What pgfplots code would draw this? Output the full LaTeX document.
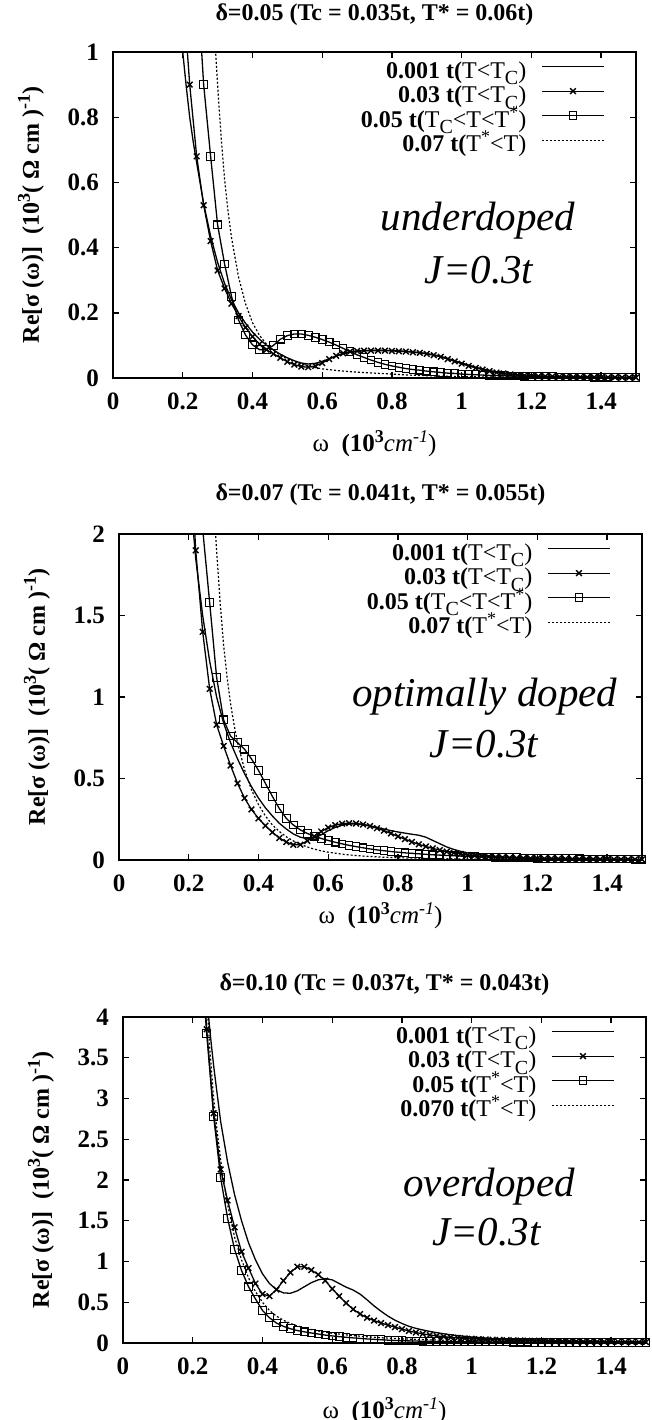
\documentclass[border=0pt]{standalone}
\usepackage{fontspec}
\setmainfont{Liberation Serif}
\usepackage{pgfplots}
\pgfplotsset{compat=1.18}

\newcommand{\sub}[1]{\raisebox{-3.2pt}{\fontsize{10}{10}\selectfont #1}}
\newcommand{\supx}[1]{\raisebox{4.5pt}{\fontsize{9}{9}\selectfont #1}}

\pgfplotsset{panel/.style={
    scale only axis, width=261.5pt, height=163pt,
    xmin=0, xmax=1.5, ymin=0,
    axis line style={line width=0.8pt},
    tick style={line width=0.7pt, black},
    major tick length=3pt,
    tick align=inside,
    xtick={0,0.2,0.4,0.6,0.8,1,1.2,1.4},
    xticklabels={0,0.2,0.4,0.6,0.8,1,1.2,1.4},
    ticklabel style={font=\fontsize{12.5}{12.5}\selectfont\bfseries},
    xticklabel style={yshift=-4pt},
    yticklabel style={xshift=-3.5pt},
    ylabel={Re[σ (ω)]\ \ (10\supx{3}( Ω cm )\supx{-1})},
    every axis y label/.style={at={([xshift=-41pt]rel axis cs:0,0.5)}, rotate=90, anchor=center,
        font=\fontsize{12}{12}\selectfont\bfseries},
    xlabel={ω\ \ \textbf{(10\supx{3}}\textit{cm\supx{-1}})},
    title style={at={(rel axis cs:0.5,1)}, anchor=center, font=\fontsize{12}{12}\selectfont\bfseries},
    legend plot pos=right,
    legend cell align=right,
    legend style={at={(rel axis cs:1,1)}, anchor=north east, xshift=-15.5pt, yshift=-4.5pt,
        draw=none, fill=none, inner sep=0pt, row sep=0pt, column sep=7.5pt,
        font=\fontsize{12}{12}\selectfont,
        nodes={inner sep=0pt, text height=8.5pt, text depth=3.75pt}},
    legend image code/.code={\draw[mark repeat=2,mark phase=2,#1] plot coordinates {(0pt,3.5pt) (15.5pt,3.5pt) (31pt,3.5pt)};},
    sA/.style={black, line width=0.65pt, no marks},
    sB/.style={black, line width=0.65pt, mark=x, mark size=2pt, every mark/.append style={line width=0.7pt}},
    sC/.style={black, line width=0.65pt, mark=square, mark size=1.9pt, every mark/.append style={line width=0.55pt}},
    sD/.style={black, line width=0.6pt, no marks, dash pattern=on 1pt off 1pt},
}}

\begin{document}
\begin{tikzpicture}
\useasboundingbox (0,0) rectangle (326pt,-710pt);

% ---------- underdoped ----------
\begin{axis}[panel, at={(56.5pt,-26pt)}, anchor=north west,
    ymax=1, ytick={0,0.2,0.4,0.6,0.8,1}, yticklabels={0,0.2,0.4,0.6,0.8,1},
    title={δ=0.05 (Tc = 0.035t, T* = 0.06t)}, title style={yshift=12.5pt},
    every axis x label/.style={at={([yshift=-33pt]rel axis cs:0.5,0)}, anchor=center, font=\fontsize{12.5}{12.5}\selectfont}]
\addplot[sA] table {
0.19 1.15
0.20 1.00
0.21 0.895
0.22 0.80
0.23 0.725
0.24 0.66
0.26 0.535
0.28 0.435
0.30 0.355
0.32 0.29
0.34 0.24
0.36 0.20
0.38 0.168
0.40 0.141
0.42 0.119
0.44 0.101
0.46 0.086
0.48 0.073
0.50 0.062
0.52 0.053
0.54 0.046
0.56 0.043
0.58 0.045
0.60 0.051
0.62 0.059
0.64 0.067
0.66 0.074
0.68 0.079
0.70 0.082
0.72 0.084
0.74 0.085
0.76 0.085
0.78 0.085
0.80 0.084
0.82 0.083
0.84 0.082
0.86 0.080
0.88 0.078
0.90 0.075
0.92 0.071
0.94 0.066
0.96 0.060
0.98 0.053
1.00 0.046
1.04 0.033
1.08 0.023
1.12 0.015
1.16 0.010
1.20 0.007
1.25 0.005
1.30 0.004
1.40 0.003
1.50 0.002
};
\addlegendentry{\textbf{0.001 t(}T<T\sub{C})}
\addplot[sB] table {
0.20 1.20
0.22 0.90
0.24 0.68
0.26 0.53
0.28 0.42
0.30 0.33
0.32 0.275
0.34 0.228
0.36 0.19
0.38 0.155
0.40 0.127
0.42 0.104
0.44 0.087
0.46 0.074
0.48 0.062
0.50 0.050
0.52 0.041
0.54 0.035
0.56 0.033
0.58 0.037
0.60 0.046
0.62 0.058
0.64 0.068
0.66 0.076
0.68 0.081
0.70 0.083
0.72 0.084
0.74 0.084
0.76 0.084
0.78 0.084
0.80 0.083
0.82 0.082
0.84 0.081
0.86 0.079
0.88 0.077
0.90 0.074
0.92 0.070
0.94 0.065
0.96 0.058
0.98 0.051
1.00 0.044
1.02 0.037
1.04 0.031
1.06 0.026
1.08 0.021
1.10 0.017
1.12 0.014
1.14 0.011
1.16 0.009
1.18 0.0075
1.20 0.0065
1.22 0.0055
1.24 0.005
1.26 0.0045
1.28 0.004
1.30 0.0035
1.32 0.003
1.34 0.003
1.36 0.0025
1.38 0.0025
1.40 0.002
1.42 0.002
1.44 0.002
1.46 0.0015
1.48 0.0015
1.50 0.0015
};
\addlegendentry{\textbf{0.03 t(}T<T\sub{C})}
\addplot[sC] table {
0.24 1.25
0.26 0.90
0.28 0.68
0.30 0.47
0.32 0.35
0.34 0.25
0.36 0.178
0.38 0.132
0.40 0.102
0.42 0.087
0.44 0.087
0.46 0.100
0.48 0.119
0.50 0.130
0.52 0.135
0.54 0.135
0.56 0.131
0.58 0.125
0.60 0.118
0.62 0.110
0.64 0.101
0.66 0.091
0.68 0.081
0.70 0.071
0.72 0.063
0.74 0.055
0.76 0.048
0.78 0.042
0.80 0.037
0.82 0.033
0.84 0.029
0.86 0.026
0.88 0.024
0.90 0.021
0.92 0.019
0.94 0.017
0.96 0.015
0.98 0.014
1.00 0.012
1.02 0.011
1.04 0.010
1.06 0.009
1.08 0.008
1.10 0.0075
1.12 0.007
1.14 0.0065
1.16 0.006
1.18 0.0055
1.20 0.005
1.22 0.0045
1.24 0.004
1.26 0.004
1.28 0.0035
1.30 0.0035
1.32 0.003
1.34 0.003
1.36 0.003
1.38 0.0025
1.40 0.0025
1.42 0.0025
1.44 0.002
1.46 0.002
1.48 0.002
1.50 0.002
};
\addlegendentry{\textbf{0.05 t(}T\sub{C}<T<T\supx{*})}
\addplot[sD] table {
0.28 1.35
0.29 1.08
0.30 0.90
0.31 0.74
0.32 0.61
0.33 0.51
0.34 0.43
0.36 0.31
0.38 0.228
0.40 0.170
0.42 0.131
0.44 0.104
0.46 0.085
0.48 0.070
0.50 0.059
0.52 0.050
0.54 0.043
0.56 0.037
0.58 0.032
0.60 0.028
0.65 0.022
0.70 0.018
0.75 0.015
0.80 0.012
0.85 0.009
0.90 0.007
1.00 0.004
1.10 0.003
1.20 0.002
1.35 0.0015
1.50 0.001
};
\addlegendentry{\textbf{0.07 t(}T\supx{*}<T)}
\node[font=\fontsize{20.5}{20.5}\selectfont\itshape] at (axis cs:1.047,0.483) {underdoped};
\node[font=\fontsize{20.5}{20.5}\selectfont\itshape] at (axis cs:1.05,0.33) {J=0.3t};
\end{axis}

% ---------- optimally doped ----------
\begin{axis}[panel, at={(59.5pt,-267pt)}, anchor=north west,
    ymax=2, ytick={0,0.5,1,1.5,2}, yticklabels={0,0.5,1,1.5,2},
    title={δ=0.07 (Tc = 0.041t, T* = 0.055t)}, title style={yshift=13.5pt},
    every axis x label/.style={at={([yshift=-28pt]rel axis cs:0.5,0)}, anchor=center, font=\fontsize{12.5}{12.5}\selectfont}]
\addplot[sA] table {
0.20 2.40
0.21 2.10
0.22 1.85
0.24 1.50
0.26 1.22
0.28 1.00
0.30 0.84
0.32 0.72
0.34 0.62
0.36 0.53
0.38 0.45
0.40 0.38
0.42 0.32
0.44 0.27
0.46 0.225
0.48 0.19
0.50 0.16
0.52 0.14
0.54 0.13
0.56 0.135
0.58 0.155
0.60 0.18
0.62 0.20
0.64 0.214
0.66 0.221
0.68 0.222
0.70 0.218
0.72 0.21
0.74 0.20
0.76 0.19
0.78 0.18
0.80 0.172
0.82 0.165
0.84 0.158
0.86 0.152
0.88 0.14
0.90 0.12
0.92 0.10
0.94 0.08
0.96 0.065
0.98 0.053
1.00 0.044
1.05 0.028
1.10 0.018
1.15 0.012
1.20 0.008
1.30 0.005
1.40 0.003
1.50 0.002
};
\addlegendentry{\textbf{0.001 t(}T<T\sub{C})}
\addplot[sB] table {
0.20 2.70
0.22 1.90
0.24 1.40
0.26 1.05
0.28 0.83
0.30 0.70
0.32 0.58
0.34 0.47
0.36 0.38
0.38 0.31
0.40 0.255
0.42 0.21
0.44 0.17
0.46 0.135
0.48 0.11
0.50 0.093
0.52 0.094
0.54 0.117
0.56 0.145
0.58 0.175
0.60 0.199
0.62 0.214
0.64 0.223
0.66 0.226
0.68 0.224
0.70 0.218
0.72 0.208
0.74 0.195
0.76 0.180
0.78 0.163
0.80 0.145
0.82 0.128
0.84 0.111
0.86 0.096
0.88 0.083
0.90 0.071
0.92 0.061
0.94 0.052
0.96 0.044
0.98 0.037
1.00 0.031
1.02 0.027
1.04 0.023
1.06 0.020
1.08 0.017
1.10 0.015
1.12 0.013
1.14 0.012
1.16 0.011
1.18 0.010
1.20 0.009
1.22 0.008
1.24 0.0075
1.26 0.007
1.28 0.0065
1.30 0.006
1.32 0.0055
1.34 0.005
1.36 0.005
1.38 0.0045
1.40 0.0045
1.42 0.004
1.44 0.004
1.46 0.004
1.48 0.0035
1.50 0.0035
};
\addlegendentry{\textbf{0.03 t(}T<T\sub{C})}
\addplot[sC] table {
0.22 2.55
0.24 2.03
0.26 1.58
0.28 1.12
0.30 0.86
0.32 0.76
0.34 0.72
0.36 0.68
0.38 0.62
0.40 0.55
0.42 0.47
0.44 0.39
0.46 0.315
0.48 0.255
0.50 0.215
0.52 0.185
0.54 0.163
0.56 0.146
0.58 0.132
0.60 0.120
0.62 0.109
0.64 0.099
0.66 0.090
0.68 0.082
0.70 0.075
0.72 0.068
0.74 0.062
0.76 0.057
0.78 0.052
0.80 0.048
0.82 0.044
0.84 0.041
0.86 0.038
0.88 0.035
0.90 0.032
0.92 0.030
0.94 0.028
0.96 0.026
0.98 0.024
1.00 0.022
1.02 0.021
1.04 0.019
1.06 0.018
1.08 0.017
1.10 0.016
1.12 0.015
1.14 0.014
1.16 0.013
1.18 0.012
1.20 0.011
1.22 0.010
1.24 0.0095
1.26 0.009
1.28 0.0085
1.30 0.008
1.32 0.0075
1.34 0.007
1.36 0.0068
1.38 0.0065
1.40 0.006
1.42 0.006
1.44 0.0055
1.46 0.0055
1.48 0.005
1.50 0.005
};
\addlegendentry{\textbf{0.05 t(}T\sub{C}<T<T\supx{*})}
\addplot[sD] table {
0.26 2.60
0.27 2.25
0.28 1.90
0.29 1.58
0.30 1.32
0.31 1.12
0.32 0.96
0.33 0.83
0.34 0.72
0.36 0.555
0.38 0.43
0.40 0.34
0.42 0.27
0.44 0.215
0.46 0.175
0.48 0.142
0.50 0.117
0.52 0.097
0.54 0.080
0.56 0.067
0.58 0.056
0.60 0.048
0.65 0.033
0.70 0.024
0.75 0.018
0.80 0.014
0.90 0.009
1.00 0.006
1.10 0.004
1.25 0.003
1.50 0.002
};
\addlegendentry{\textbf{0.07 t(}T\supx{*}<T)}
\node[font=\fontsize{20.5}{20.5}\selectfont\itshape] at (axis cs:1.049,1.0) {optimally doped};
\node[font=\fontsize{20.5}{20.5}\selectfont\itshape] at (axis cs:1.047,0.71) {J=0.3t};
\end{axis}

% ---------- overdoped ----------
\begin{axis}[panel, at={(61.5pt,-508.5pt)}, anchor=north west,
    ymax=4, ytick={0,0.5,1,1.5,2,2.5,3,3.5,4}, yticklabels={0,0.5,1,1.5,2,2.5,3,3.5,4},
    title={δ=0.10 (Tc = 0.037t, T* = 0.043t)}, title style={yshift=10pt},
    every axis x label/.style={at={([yshift=-34pt]rel axis cs:0.5,0)}, anchor=center, font=\fontsize{12.5}{12.5}\selectfont}]
\addplot[sA] table {
0.22 5.50
0.23 4.80
0.24 4.25
0.25 3.80
0.26 3.40
0.28 2.72
0.30 2.22
0.32 1.82
0.34 1.50
0.36 1.23
0.38 1.02
0.40 0.85
0.42 0.73
0.44 0.655
0.46 0.615
0.48 0.61
0.50 0.64
0.52 0.69
0.54 0.74
0.56 0.775
0.58 0.79
0.60 0.775
0.62 0.73
0.64 0.685
0.66 0.65
0.68 0.60
0.70 0.53
0.72 0.455
0.74 0.39
0.76 0.33
0.78 0.28
0.80 0.24
0.82 0.205
0.84 0.18
0.86 0.16
0.88 0.142
0.90 0.127
0.92 0.113
0.94 0.101
0.96 0.091
0.98 0.082
1.00 0.074
1.05 0.058
1.10 0.047
1.20 0.032
1.30 0.023
1.40 0.017
1.50 0.013
};
\addlegendentry{\textbf{0.001 t(}T<T\sub{C})}
\addplot[sB] table {
0.22 5.20
0.24 3.85
0.26 2.82
0.28 2.13
0.30 1.75
0.32 1.42
0.34 1.12
0.36 0.92
0.38 0.73
0.40 0.60
0.42 0.575
0.44 0.655
0.46 0.765
0.48 0.865
0.50 0.935
0.52 0.935
0.54 0.895
0.56 0.84
0.58 0.765
0.60 0.665
0.62 0.575
0.64 0.49
0.66 0.415
0.68 0.355
0.70 0.31
0.72 0.275
0.74 0.245
0.76 0.22
0.78 0.195
0.80 0.17
0.82 0.148
0.84 0.128
0.86 0.112
0.88 0.098
0.90 0.087
0.92 0.078
0.94 0.070
0.96 0.063
0.98 0.057
1.00 0.052
1.02 0.048
1.04 0.044
1.06 0.041
1.08 0.038
1.10 0.035
1.12 0.033
1.14 0.031
1.16 0.029
1.18 0.027
1.20 0.025
1.22 0.024
1.24 0.022
1.26 0.021
1.28 0.020
1.30 0.019
1.32 0.018
1.34 0.017
1.36 0.016
1.38 0.015
1.40 0.015
1.42 0.014
1.44 0.013
1.46 0.013
1.48 0.012
1.50 0.012
};
\addlegendentry{\textbf{0.03 t(}T<T\sub{C})}
\addplot[sC] table {
0.22 5.00
0.24 3.80
0.26 2.78
0.28 2.03
0.30 1.53
0.32 1.15
0.34 0.89
0.36 0.69
0.38 0.54
0.40 0.40
0.42 0.31
0.44 0.245
0.46 0.205
0.48 0.175
0.50 0.153
0.52 0.137
0.54 0.123
0.56 0.110
0.58 0.097
0.60 0.087
0.62 0.078
0.64 0.070
0.66 0.063
0.68 0.056
0.70 0.050
0.72 0.045
0.74 0.040
0.76 0.035
0.78 0.031
0.80 0.028
0.82 0.026
0.84 0.024
0.86 0.022
0.88 0.020
0.90 0.019
0.92 0.018
0.94 0.017
0.96 0.016
0.98 0.015
1.00 0.014
1.02 0.0135
1.04 0.013
1.06 0.0125
1.08 0.012
1.10 0.011
1.12 0.0105
1.14 0.010
1.16 0.0095
1.18 0.009
1.20 0.009
1.22 0.0085
1.24 0.008
1.26 0.008
1.28 0.0075
1.30 0.007
1.32 0.007
1.34 0.0065
1.36 0.0065
1.38 0.006
1.40 0.006
1.42 0.006
1.44 0.0055
1.46 0.0055
1.48 0.005
1.50 0.005
};
\addlegendentry{\textbf{0.05 t(}T\supx{*}<T)}
\addplot[sD] table {
0.22 5.40
0.23 4.75
0.24 4.20
0.25 3.55
0.26 3.00
0.27 2.60
0.28 2.25
0.29 1.95
0.30 1.70
0.32 1.30
0.34 1.02
0.36 0.80
0.38 0.63
0.40 0.50
0.42 0.40
0.44 0.33
0.46 0.28
0.48 0.24
0.50 0.21
0.52 0.185
0.54 0.165
0.56 0.148
0.58 0.133
0.60 0.12
0.65 0.095
0.70 0.076
0.75 0.062
0.80 0.051
0.85 0.043
0.90 0.036
1.00 0.027
1.10 0.020
1.20 0.016
1.30 0.013
1.40 0.011
1.50 0.009
};
\addlegendentry{\textbf{0.070 t(}T\supx{*}<T)}
\node[font=\fontsize{20.5}{20.5}\selectfont\itshape] at (axis cs:1.05,1.918) {overdoped};
\node[font=\fontsize{20.5}{20.5}\selectfont\itshape] at (axis cs:1.042,1.363) {J=0.3t};
\end{axis}
\end{tikzpicture}
\end{document}
